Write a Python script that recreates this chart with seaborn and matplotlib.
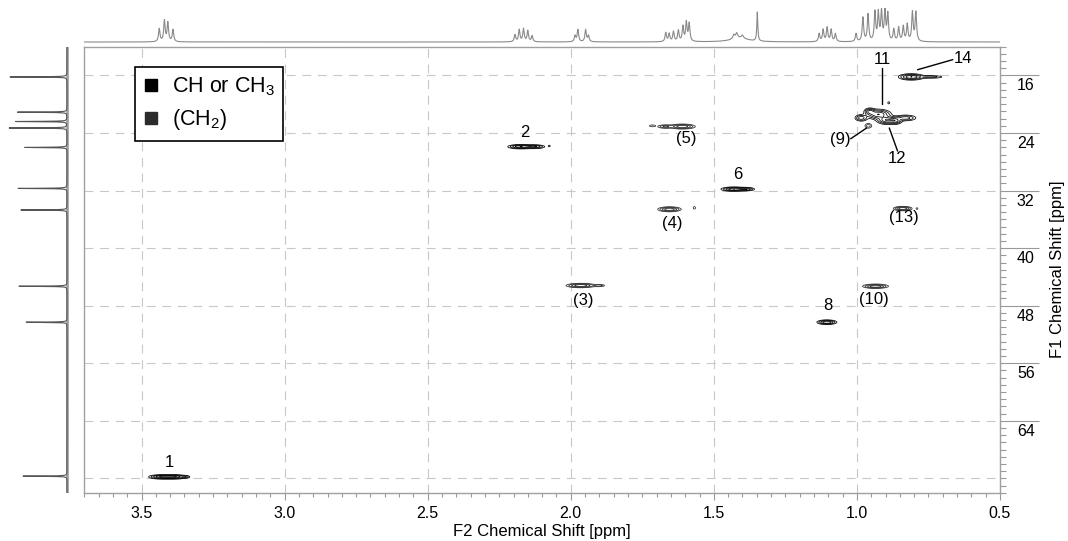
import numpy as np
import pandas as pd
import matplotlib
matplotlib.use("Agg")
import matplotlib.pyplot as plt
from matplotlib.lines import Line2D
from matplotlib import transforms
import seaborn as sns

# ---------------- data ----------------
# 1H projection (top trace): line positions [ppm], heights, half-widths
h1_ppm = [3.438, 3.420, 3.408, 3.390,
          2.195, 2.180, 2.165, 2.150, 2.135,
          1.985, 1.975, 1.948, 1.938,
          1.668, 1.656, 1.641, 1.624, 1.608, 1.596, 1.586,
          1.430, 1.420, 1.400, 1.410,
          1.348,
          1.132, 1.118, 1.104, 1.090, 1.075,
          1.003, 0.979, 0.961, 0.937, 0.925, 0.914, 0.902, 0.892,
          0.871, 0.854, 0.838, 0.824, 0.806, 0.794]
h1_int = [13, 21, 19, 12,
          7, 12, 13, 11, 6,
          6, 12, 12, 6,
          9, 8, 10, 11, 15, 19, 18,
          4, 5, 3, 4,
          29,
          8, 12, 14, 12, 8,
          8, 24, 27, 29, 28, 29, 29, 27,
          12, 14, 15, 17, 29, 29]
h1_hw = [0.003] * 20 + [0.004, 0.004, 0.004, 0.035] + [0.002] + [0.003] * 5 + [0.003] * 14

# 13C projection (left trace): line positions [ppm] and heights
c13_ppm = [16.2, 21.1, 22.4, 23.3, 26.0, 31.7, 34.7, 45.3, 50.3, 71.7]
c13_int = [58, 51, 52, 58.7, 43, 49, 47, 48, 41, 45]

# HSQC cross-peak components: F2 (1H) ppm, F1 (13C) ppm, widths, amplitude, multiplicity
pk_f2 = [3.430, 3.385, 3.345,
         2.175, 2.125, 2.075,
         1.430, 1.385,
         1.105,
         0.925, 0.895, 0.985, 0.830, 0.889, 0.955, 0.865,
         0.810, 0.740,
         1.965, 1.900,
         1.655, 1.568,
         1.610, 1.670, 1.715,
         0.960,
         0.935,
         0.840, 0.790]
pk_f1 = [71.8, 71.8, 71.8,
         25.9, 25.9, 25.8,
         31.8, 31.8,
         50.3,
         21.4, 22.2, 21.9, 21.9, 19.8, 21.0, 22.3,
         16.2, 16.2,
         45.2, 45.2,
         34.6, 34.4,
         23.1, 23.1, 23.0,
         23.0,
         45.3,
         34.5, 34.5]
pk_w2 = [0.022, 0.022, 0.008,
         0.022, 0.018, 0.003,
         0.022, 0.015,
         0.017,
         0.022, 0.018, 0.012, 0.020, 0.0025, 0.010, 0.012,
         0.022, 0.025,
         0.025, 0.012,
         0.020, 0.0035,
         0.022, 0.015, 0.008,
         0.008,
         0.022,
         0.016, 0.003]
pk_w1 = [0.15, 0.15, 0.11,
         0.15, 0.14, 0.10,
         0.15, 0.13,
         0.16,
         0.35, 0.30, 0.25, 0.22, 0.12, 0.25, 0.25,
         0.22, 0.12,
         0.15, 0.10,
         0.17, 0.15,
         0.17, 0.14, 0.10,
         0.22,
         0.15,
         0.15, 0.10]
pk_amp = [1, 1, 0.3,
          1, 0.7, 0.2,
          1, 0.6,
          1,
          1, 1, 0.6, 0.6, 0.25, 0.7, 0.7,
          1, 0.35,
          1, 0.35,
          1, 0.22,
          1, 0.5, 0.25,
          0.35,
          1,
          1, 0.2]
pk_kind = ["CH"] * 18 + ["CH2"] * 11

# peak labels
lab_text = ["1", "2", "(5)", "6", "(4)", "(3)", "8", "(10)", "(13)", "11", "12", "14", "(9)"]
lab_f2 = [3.404, 2.160, 1.596, 1.418, 1.646, 1.958, 1.100, 0.941, 0.835, 0.911, 0.858, 0.628, 1.057]
lab_f1 = [69.8, 23.97, 24.7, 29.8, 36.6, 47.25, 47.95, 47.2, 35.8, 13.8, 27.6, 13.7, 24.85]

# leader lines (x0, y0) -> (x1, y1)
lead_x0 = [0.911, 0.788, 1.022, 0.887]
lead_y0 = [14.9, 15.2, 24.8, 23.3]
lead_x1 = [0.911, 0.665, 0.966, 0.858]
lead_y1 = [19.98, 13.8, 23.3, 26.5]

x_major = [3.5, 3.0, 2.5, 2.0, 1.5, 1.0, 0.5]
x_labels = ["3.5", "3.0", "2.5", "2.0", "1.5", "1.0", "0.5"]
y_major = [16, 24, 32, 40, 48, 56, 64]
y_grid_extra = [72]
legend_labels = ["CH or CH$_3$", "(CH$_2$)"]

# ---------------- style ----------------
sns.set_theme(style="white")
plt.rcParams["font.family"] = ["Liberation Sans", "DejaVu Sans"]
plt.rcParams["mathtext.fontset"] = "custom"
plt.rcParams["mathtext.rm"] = "Liberation Sans"
plt.rcParams["mathtext.it"] = "Liberation Sans:italic"
plt.rcParams["mathtext.bf"] = "Liberation Sans:bold"
plt.rcParams["mathtext.default"] = "rm"
plt.rcParams["text.color"] = "black"
plt.rcParams["axes.labelcolor"] = "black"

W, H = 1068, 541
fig = plt.figure(figsize=(W / 100, H / 100), dpi=100)
L, R, T, B = 84.3, 1000.0, 46.7, 492.7
ax = fig.add_axes([L / W, 1 - B / H, (R - L) / W, (B - T) / H])
ax_top = fig.add_axes([L / W, 1 - 44 / H, (R - L) / W, 36 / H])
ax_left = fig.add_axes([5 / W, 1 - B / H, 70 / W, (B - T) / H])

XLIM = (3.7, 0.5)
YLIM = (74, 12)

# ---------------- contours ----------------
gx = np.linspace(XLIM[1], XLIM[0], 2400)
gy = np.linspace(YLIM[1], YLIM[0], 1700)
Z = {"CH": np.zeros((gy.size, gx.size)), "CH2": np.zeros((gy.size, gx.size))}
for x0, y0, sx, sy, a, k in zip(pk_f2, pk_f1, pk_w2, pk_w1, pk_amp, pk_kind):
    fx = np.exp(-0.5 * ((gx - x0) / sx) ** 2)
    fy = np.exp(-0.5 * ((gy - y0) / sy) ** 2)
    Z[k] += a * np.outer(fy, fx)
levels = [0.12, 0.25, 0.45, 0.7, 1.0]
ax.contour(gx, gy, Z["CH"], levels=levels, colors="black", linewidths=0.55)
ax.contour(gx, gy, Z["CH2"], levels=levels, colors="#2b2b2b", linewidths=0.55)

for t, x, y in zip(lab_text, lab_f2, lab_f1):
    ax.text(x, y, t, ha="center", va="center", fontsize=12, color="black")
for x0, y0, x1, y1 in zip(lead_x0, lead_y0, lead_x1, lead_y1):
    ax.plot([x0, x1], [y0, y1], color="black", lw=1.0)

ax.set_xlim(*XLIM)
ax.set_ylim(*YLIM)

# grid
grid_kw = dict(color="#c8c8c8", lw=0.8, ls=(0, (8, 6)))
ax.set_xticks(x_major)
ax.set_xticklabels(x_labels)
ax.set_xticks(np.arange(0.5, 3.71, 0.05), minor=True)
ax.yaxis.tick_right()
ax.set_yticks(y_major)
ax.set_yticklabels([])
ax.set_yticks(np.arange(12, 75, 1), minor=True)
ax.grid(True, which="major", **grid_kw)
for v in y_grid_extra:
    ax.axhline(v, zorder=0.5, **grid_kw)
ax.set_axisbelow(True)

tick_c = "#999999"
ax.tick_params(axis="x", which="major", direction="out", length=5, width=0.8,
               color=tick_c, labelsize=11.5, pad=4.5, bottom=True, labelcolor="black")
ax.tick_params(axis="x", which="minor", direction="out", length=3, width=0.8,
               color=tick_c, bottom=True)
ax.tick_params(axis="y", which="major", direction="out", length=28, width=0.8,
               color=tick_c, right=True, left=False)
ax.tick_params(axis="y", which="minor", direction="out", length=4, width=0.8,
               color=tick_c, right=True, left=False)
for s in ax.spines.values():
    s.set_color("#a0a0a0")
    s.set_linewidth(1.0)

# right-side tick labels placed below the long tick lines
off = transforms.ScaledTranslation(0, -10.5 / 100, fig.dpi_scale_trans)
blend = transforms.blended_transform_factory(ax.transAxes, ax.transData)
for v in y_major:
    ax.text(1.0185, v, str(v), transform=blend + off, ha="left", va="center",
            fontsize=11.5, color="black")

ax.set_xlabel("F2 Chemical Shift [ppm]", fontsize=12, color="black")
ax.xaxis.set_label_coords(0.5, -0.071)
ax.yaxis.set_label_position("right")
ax.set_ylabel("F1 Chemical Shift [ppm]", fontsize=12, rotation=90, color="black")
ax.yaxis.set_label_coords(1.0545, 0.5)

# legend
handles = [Line2D([], [], marker="s", ls="none", color="black", markersize=8),
           Line2D([], [], marker="s", ls="none", color="#2b2b2b", markersize=8)]
leg = ax.legend(handles, legend_labels, loc="upper left", bbox_to_anchor=(0.0554, 0.954),
                borderaxespad=0, frameon=True, fancybox=False, shadow=False,
                fontsize=15.5, handlelength=0.7, handletextpad=0.6, borderpad=0.4,
                labelspacing=0.4)
leg.get_frame().set_edgecolor("black")
leg.get_frame().set_linewidth(1.2)
leg.get_frame().set_alpha(1)
for t in leg.get_texts():
    t.set_color("black")

# ---------------- top 1H projection ----------------
hx = np.linspace(XLIM[1], XLIM[0], 7000)
hy = np.zeros_like(hx)
for p, h, w in zip(h1_ppm, h1_int, h1_hw):
    hy += h * w ** 2 / ((hx - p) ** 2 + w ** 2)
sns.lineplot(x=hx, y=hy, ax=ax_top, color="#8a8a8a", lw=0.8)
ax_top.set_xlim(*XLIM)
ax_top.set_ylim(-2, 34)
ax_top.axis("off")

# ---------------- left 13C projection ----------------
cy = np.linspace(YLIM[1], YLIM[0], 6000)
cx = np.zeros_like(cy)
for p, h in zip(c13_ppm, c13_int):
    w = 0.03
    cx += h * w ** 2 / ((cy - p) ** 2 + w ** 2)
ax_left.axvline(0, color="#8c8c8c", lw=1.9, alpha=0.85)
sns.lineplot(x=cx, y=cy, ax=ax_left, color="#555555", lw=0.8, orient="y", sort=False)
ax_left.set_xlim(62, -8)
ax_left.set_ylim(*YLIM)
ax_left.axis("off")

fig.savefig("out.png", dpi=100)
